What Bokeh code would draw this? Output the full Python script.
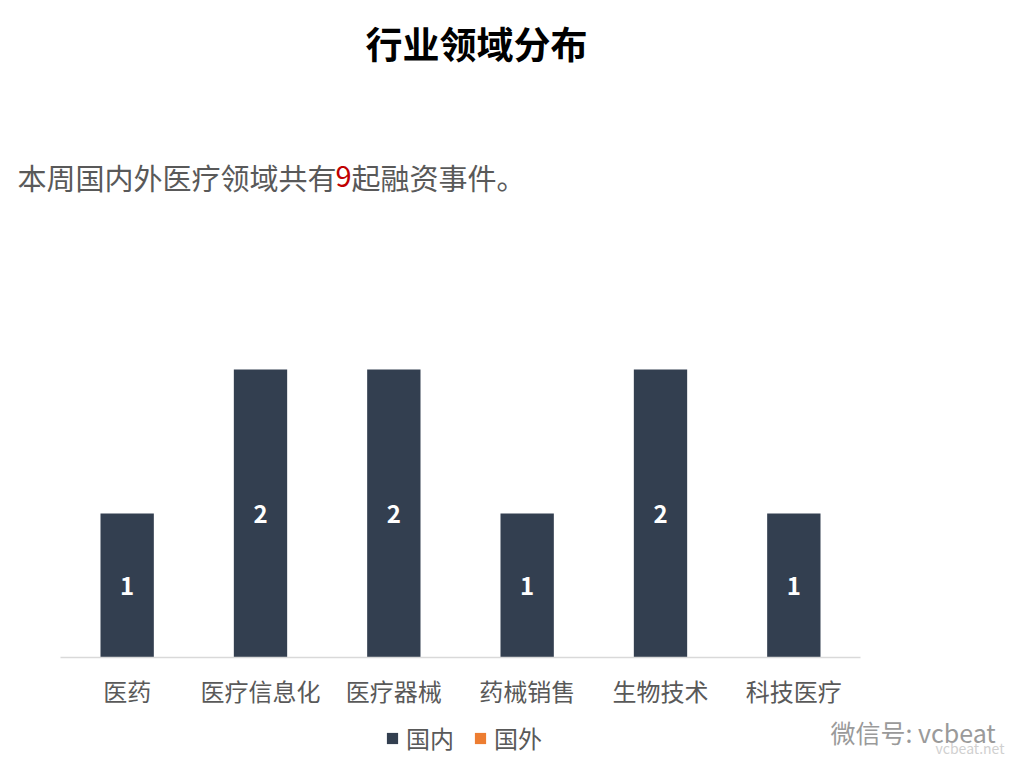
from bokeh.plotting import figure
from bokeh.models import ColumnDataSource, Label, Legend, LegendItem, Range1d
from bokeh.core.properties import value
from bokeh.embed import file_html
from bokeh.resources import INLINE

categories = ["医药", "医疗信息化", "医疗器械", "药械销售", "生物技术", "科技医疗"]
domestic = [1, 2, 2, 1, 2, 1]
foreign = [0, 0, 0, 0, 0, 0]
series_names = ["国内", "国外"]
title_text = "行业领域分布"
sub_a = "本周国内外医疗领域共有"
sub_num = "9"
sub_b = "起融资事件。"
watermark = "微信号: vcbeat"
watermark2 = "vcbeat.net"

FONT = "Noto Sans CJK SC"
C_DOM = "#333f50"
C_FOR = "#ed7d31"

W, H = 1014, 759
PX_X = 800 / 6.0      # pixels per category slot
PX_Y = 144.0          # pixels per unit value
BASE_Y = 657          # pixel row of the baseline
LEFT_X = 60           # pixel column where the first slot starts

n = len(categories)
pos = [i + 0.5 for i in range(n)]

src = ColumnDataSource(dict(
    x=pos,
    cat=categories,
    dom=domestic,
    forn=foreign,
    lab=[str(v) for v in domestic],
    mid=[v / 2 for v in domestic],
    laby=[-33 / PX_Y] * n,
))

x_range = Range1d(-LEFT_X / PX_X, (W - LEFT_X) / PX_X)
y_range = Range1d(-(H - BASE_Y) / PX_Y, BASE_Y / PX_Y)

p = figure(width=W, height=H, x_range=x_range, y_range=y_range,
           output_backend="svg", toolbar_location=None,
           min_border=0, min_border_left=0, min_border_right=0,
           min_border_top=0, min_border_bottom=0)
p.outline_line_color = None
p.axis.visible = False
p.grid.visible = False
p.background_fill_color = "white"
p.border_fill_color = "white"

r = p.vbar_stack(["dom", "forn"], x="x", width=0.4, color=[C_DOM, C_FOR], line_color=None, source=src)

# baseline (category axis line)
p.segment(x0=[0], x1=[n], y0=[0], y1=[0], line_color="#d9d9d9", line_width=1.5)

# category labels
p.text(x="x", y="laby", text="cat", source=src, text_color="#595959",
       text_font=value(FONT), text_font_size="24px",
       text_align="center", text_baseline="middle")

# value labels inside bars
p.text(x="x", y="mid", text="lab", source=src, text_color="white",
       text_font=value(FONT), text_font_style="bold", text_font_size="24px",
       text_align="center", text_baseline="middle")

legend = Legend(items=[LegendItem(label=series_names[0], renderers=[r[0]]),
                       LegendItem(label=series_names[1], renderers=[r[1]])],
                orientation="horizontal", location=(385, 4),
                label_text_font=FONT, label_text_font_size="24px", label_text_color="#595959",
                glyph_width=14, glyph_height=14, border_line_color=None,
                background_fill_alpha=0, padding=2, margin=0, spacing=19, label_standoff=7)
p.add_layout(legend, "center")

p.add_layout(Label(x=476, y=H - 42, x_units="screen", y_units="screen", text=title_text,
                   text_font=FONT, text_font_style="bold", text_font_size="37px",
                   text_color="black", text_align="center", text_baseline="middle"))
p.add_layout(Label(x=17, y=H - 176, x_units="screen", y_units="screen", text=sub_a,
                   text_font=FONT, text_font_size="29px", text_color="#595959",
                   text_align="left", text_baseline="middle"))
p.add_layout(Label(x=335, y=H - 176, x_units="screen", y_units="screen", text=sub_num,
                   text_font=FONT, text_font_size="29px", text_color="#c00000",
                   text_align="left", text_baseline="middle"))
p.add_layout(Label(x=351, y=H - 176, x_units="screen", y_units="screen", text=sub_b,
                   text_font=FONT, text_font_size="29px", text_color="#595959",
                   text_align="left", text_baseline="middle"))
p.add_layout(Label(x=830, y=H - 731, x_units="screen", y_units="screen", text=watermark,
                   text_font=FONT, text_font_size="25px", text_color="#9a9a9a",
                   text_align="left", text_baseline="middle"))
p.add_layout(Label(x=1004, y=H - 747, x_units="screen", y_units="screen", text=watermark2,
                   text_font=FONT, text_font_size="14px", text_color="#d0d0d0",
                   text_align="right", text_baseline="middle"))

open("out.html", "w").write(file_html(p, INLINE))
